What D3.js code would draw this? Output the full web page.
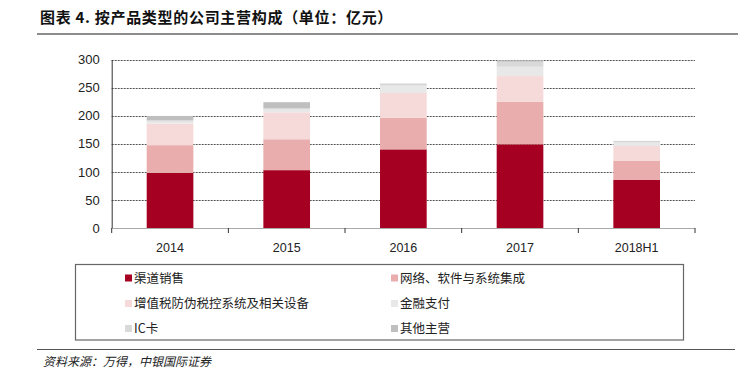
<!DOCTYPE html>
<html>
<head>
<meta charset="utf-8">
<script src="https://cdn.jsdelivr.net/npm/d3@7/dist/d3.min.js"></script>
<style>
  html, body { margin: 0; padding: 0; background: #fff; }
  svg { display: block; }
</style>
</head>
<body>
<svg id="chart" width="738" height="379"></svg>
<script>
const categories = ["2014", "2015", "2016", "2017", "2018H1"];
const seriesNames = ["渠道销售", "网络、软件与系统集成", "增值税防伪税控系统及相关设备", "金融支付", "IC卡", "其他主营"];
const channelSales = [98, 103, 140, 149, 86];
const networkSoftware = [49.5, 55, 56, 75.5, 34];
const taxControl = [38.5, 48, 44.5, 46, 26];
const financialPayment = [3.5, 5, 13, 16.5, 6];
const icCard = [2.5, 2, 2, 9, 2];
const otherBusiness = [7.5, 11, 1.5, 2.5, 1];
const yTicks = [0, 50, 100, 150, 200, 250, 300];
const colors = ["#A50021", "#E8ADAC", "#F6DADA", "#E8E8E8", "#D9D9D9", "#BFBFBF"];

const seriesValues = [channelSales, networkSoftware, taxControl, financialPayment, icCard, otherBusiness];
const keys = seriesNames;
const rows = categories.map((c, i) => {
  const r = { cat: c };
  keys.forEach((k, j) => { r[k] = seriesValues[j][i]; });
  return r;
});

const svg = d3.select("#chart");
const sansCJK = "'Noto Sans CJK SC', 'Noto Sans', sans-serif";
const latin = "'Liberation Sans', Arial, sans-serif";

// Title
svg.append("text")
  .attr("x", 40).attr("y", 23)
  .attr("font-family", sansCJK)
  .attr("font-weight", "bold")
  .attr("font-size", 15)
  .attr("letter-spacing", 0.7)
  .attr("fill", "#111")
  .text("图表 4. 按产品类型的公司主营构成（单位：亿元）");
svg.append("line")
  .attr("x1", 37).attr("x2", 738).attr("y1", 34).attr("y2", 34)
  .attr("stroke", "#8c8c8c").attr("stroke-width", 2);

// Scales
const x = d3.scaleBand().domain(categories).range([111.7, 695]).paddingInner(0.6).paddingOuter(0.3);
const y = d3.scaleLinear().domain([0, 300]).range([228, 59.5]);

// Gridlines
svg.append("g").selectAll("line").data(yTicks.filter(t => t > 0)).join("line")
  .attr("x1", 111.7).attr("x2", 695)
  .attr("y1", d => Math.round(y(d)) + 0.5).attr("y2", d => Math.round(y(d)) + 0.5)
  .attr("stroke", "#555").attr("stroke-width", 1).attr("stroke-dasharray", "2,1");

// Bars
const stack = d3.stack().keys(keys);
const layers = stack(rows);
svg.append("g").selectAll("g").data(layers).join("g")
  .attr("fill", (d, i) => colors[i])
  .selectAll("rect").data(d => d).join("rect")
  .attr("x", d => x(d.data.cat))
  .attr("width", x.bandwidth())
  .attr("y", d => y(d[1]))
  .attr("height", d => y(d[0]) - y(d[1]));

// Y axis
const yAxis = d3.axisLeft(y).tickValues(yTicks).tickSize(0).tickPadding(12);
const gy = svg.append("g").attr("transform", "translate(111.7,0)").call(yAxis);
gy.select(".domain").attr("stroke", "#333");
gy.selectAll("text").attr("font-family", latin).attr("font-size", 13).attr("fill", "#222");

// X axis
const gx = svg.append("g").attr("transform", "translate(0,228)");
gx.append("line").attr("x1", 111.7).attr("x2", 695).attr("y1", 0.5).attr("y2", 0.5).attr("stroke", "#aaa");
const boundaries = categories.map((c, i) => 111.7 + i * x.step());
boundaries.push(111.7 + categories.length * x.step());
gx.selectAll("line.tick").data(boundaries).join("line")
  .attr("class", "tick")
  .attr("x1", d => d).attr("x2", d => d).attr("y1", 0).attr("y2", 5)
  .attr("stroke", "#333");
gx.selectAll("text").data(categories).join("text")
  .attr("x", d => x(d) + x.bandwidth() / 2)
  .attr("y", 24)
  .attr("text-anchor", "middle")
  .attr("font-family", latin).attr("font-size", 12.5).attr("fill", "#222")
  .text(d => d);

// Legend box
svg.append("rect")
  .attr("x", 75.5).attr("y", 264.5).attr("width", 608).attr("height", 75.5)
  .attr("fill", "none").attr("stroke", "#666").attr("stroke-width", 1.2);
const legendPos = [[125, 278], [391, 278], [125, 303.5], [391, 303.5], [125, 328.5], [391, 328.5]];
const lg = svg.append("g").selectAll("g").data(seriesNames).join("g")
  .attr("transform", (d, i) => `translate(${legendPos[i][0]},${legendPos[i][1]})`);
lg.append("rect").attr("x", 0).attr("y", -3.5).attr("width", 7).attr("height", 7)
  .attr("fill", (d, i) => colors[i]);
lg.append("text").attr("x", 9).attr("y", 0).attr("dy", "0.36em")
  .attr("font-family", sansCJK)
  .attr("font-size", 12.5).attr("fill", "#222")
  .text(d => d);

// Source
svg.append("line")
  .attr("x1", 37).attr("x2", 735).attr("y1", 349.5).attr("y2", 349.5)
  .attr("stroke", "#555").attr("stroke-width", 1.2);
svg.append("text")
  .attr("x", 43).attr("y", 366)
  .attr("font-family", sansCJK)
  .attr("font-style", "italic")
  .attr("font-size", 12).attr("fill", "#222")
  .text("资料来源：万得，中银国际证券");
</script>
</body>
</html>
